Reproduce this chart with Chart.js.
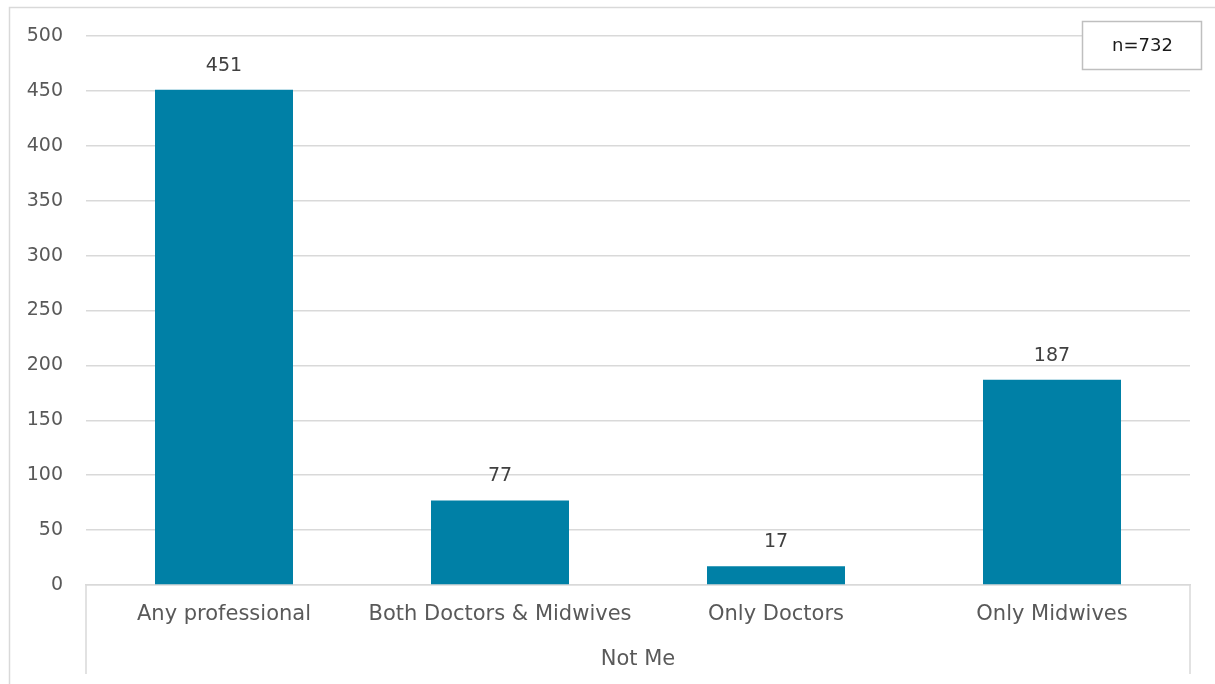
<!DOCTYPE html>
<html>
<head>
<meta charset="utf-8">
<script src="https://cdn.jsdelivr.net/npm/chart.js@4.4.1/dist/chart.umd.min.js"></script>
<style>
  html, body { margin: 0; padding: 0; background: #ffffff; }
  #wrap { width: 1215px; height: 684px; position: relative; }
</style>
</head>
<body>
<div id="wrap"><canvas id="chart" width="1215" height="684"></canvas></div>
<script>
// Responses by who was not involved
const categories = ["Any professional", "Both Doctors & Midwives", "Only Doctors", "Only Midwives"];
const counts = [451, 77, 17, 187];
const groupLabel = "Not Me";
const sampleNote = "n=732";
const yTicks = [0, 50, 100, 150, 200, 250, 300, 350, 400, 450, 500];

const FONT = "'DejaVu Sans', Verdana, sans-serif";
const GRID = "#d9d9d9";

// Frame, group label, separators and the sample-size box
const decorations = {
  id: "decorations",
  beforeDraw(chart) {
    const ctx = chart.ctx;
    ctx.save();
    ctx.fillStyle = "#ffffff";
    ctx.fillRect(0, 0, chart.width, chart.height);
    ctx.strokeStyle = GRID;
    ctx.lineWidth = 1.5;
    ctx.beginPath();
    ctx.moveTo(9.5, chart.height);
    ctx.lineTo(9.5, 7.5);
    ctx.lineTo(chart.width, 7.5);
    ctx.stroke();
    ctx.restore();
  },
  afterDraw(chart) {
    const ctx = chart.ctx;
    const a = chart.chartArea;
    ctx.save();
    // vertical separators framing the category group
    ctx.strokeStyle = GRID;
    ctx.lineWidth = 1.5;
    ctx.beginPath();
    ctx.moveTo(a.left, a.bottom);
    ctx.lineTo(a.left, a.bottom + 89);
    ctx.moveTo(a.right, a.bottom);
    ctx.lineTo(a.right, a.bottom + 89);
    ctx.stroke();
    // group label
    ctx.fillStyle = "#595959";
    ctx.font = "21px " + FONT;
    ctx.textAlign = "center";
    ctx.textBaseline = "middle";
    ctx.fillText(groupLabel, (a.left + a.right) / 2, a.bottom + 75);
    // sample-size box
    const bx = 1082, by = 21, bw = 119, bh = 48;
    ctx.fillStyle = "#ffffff";
    ctx.fillRect(bx, by, bw, bh);
    ctx.strokeStyle = "#bfbfbf";
    ctx.lineWidth = 1.5;
    ctx.strokeRect(bx + 0.5, by + 0.5, bw, bh);
    ctx.fillStyle = "#1a1a1a";
    ctx.font = "18px " + FONT;
    ctx.fillText(sampleNote, bx + bw / 2 + 1, by + bh / 2 + 1);
    ctx.restore();
  }
};

// Value labels above each bar
const valueLabels = {
  id: "valueLabels",
  afterDatasetsDraw(chart) {
    const ctx = chart.ctx;
    const meta = chart.getDatasetMeta(0);
    ctx.save();
    ctx.fillStyle = "#404040";
    ctx.font = "19px " + FONT;
    ctx.textAlign = "center";
    ctx.textBaseline = "middle";
    meta.data.forEach((bar, i) => {
      ctx.fillText(String(counts[i]), bar.x, bar.y - 24);
    });
    ctx.restore();
  }
};

new Chart(document.getElementById("chart"), {
  type: "bar",
  data: {
    labels: categories,
    datasets: [{
      data: counts,
      backgroundColor: "#0080a6",
      borderWidth: 0,
      categoryPercentage: 1,
      barPercentage: 0.5
    }]
  },
  options: {
    responsive: false,
    animation: false,
    devicePixelRatio: 1,
    layout: { padding: { top: 36, right: 25, left: 0, bottom: 0 } },
    plugins: {
      legend: { display: false },
      tooltip: { enabled: false },
      title: { display: false }
    },
    scales: {
      x: {
        grid: { display: false, drawTicks: false },
        border: { display: true, color: GRID, width: 1.5 },
        ticks: {
          color: "#595959",
          font: { family: FONT, size: 21 },
          padding: 17,
          maxRotation: 0,
          autoSkip: false
        },
        afterFit(scale) { scale.height = 99; }
      },
      y: {
        min: yTicks[0],
        max: yTicks[yTicks.length - 1],
        afterBuildTicks(scale) { scale.ticks = yTicks.map(v => ({ value: v })); },
        grid: { color: GRID, lineWidth: 1.5, drawTicks: false },
        border: { display: false },
        ticks: {
          color: "#595959",
          font: { family: FONT, size: 19 },
          padding: 23
        },
        afterFit(scale) { scale.width = 86; }
      }
    }
  },
  plugins: [decorations, valueLabels]
});
</script>
</body>
</html>
